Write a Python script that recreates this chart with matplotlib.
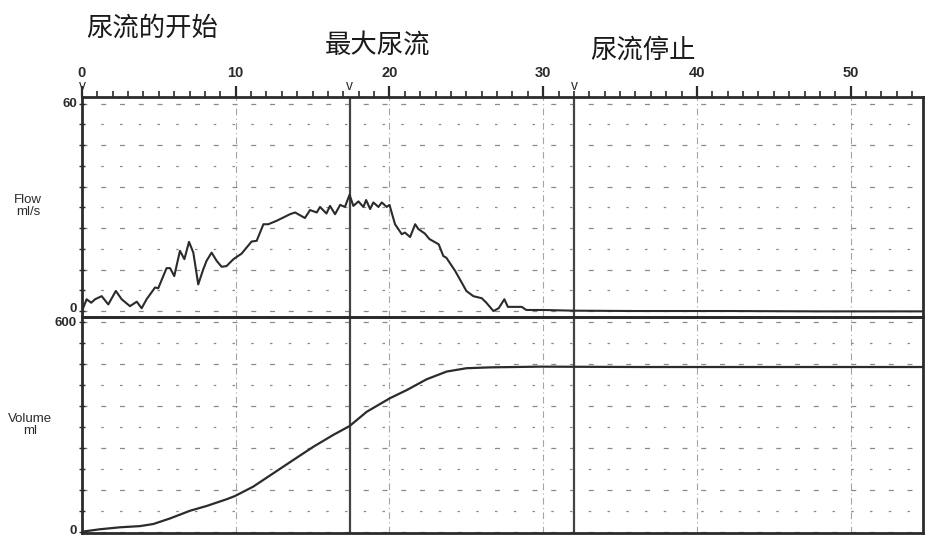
import numpy as np
import matplotlib
matplotlib.use("Agg")
import matplotlib.pyplot as plt

plt.rcParams['font.family'] = ['Noto Sans CJK SC', 'DejaVu Sans']

# 流量曲线 (s, ml/s)
flow_t = [0.0, 0.3, 0.6, 0.85, 1.28, 1.71, 2.2, 2.58, 3.12, 3.56, 3.88, 4.2, 4.75, 4.96,
          5.5, 5.73, 6.0, 6.37, 6.66, 6.96, 7.24, 7.56, 7.89, 8.1, 8.43, 8.76, 9.08, 9.4,
          9.85, 10.38, 11.03, 11.36, 11.8, 12.12, 12.66, 13.53, 13.86, 14.5, 14.83, 15.27,
          15.48, 15.9, 16.13, 16.46, 16.79, 17.1, 17.4, 17.65, 17.98, 18.3, 18.48, 18.74,
          18.95, 19.28, 19.5, 19.82, 20.0, 20.14, 20.36, 20.8, 21.0, 21.34, 21.67, 21.88,
          22.3, 22.6, 23.2, 23.5, 23.7, 24.27, 24.7, 25.0, 25.45, 26.0, 26.3, 26.76, 27.1,
          27.47, 27.7, 28.3, 28.6, 28.9, 30.0, 32.0, 36.0, 42.0, 48.0, 54.7]
flow_v = [0.0, 3.4, 2.4, 3.4, 4.3, 1.9, 5.8, 3.4, 1.4, 2.7, 0.8, 3.4, 6.8, 6.6,
          12.4, 12.4, 10.1, 17.4, 15.0, 20.0, 16.9, 7.7, 12.1, 14.5, 16.9, 14.5, 12.8, 13.0,
          15.0, 16.6, 20.1, 20.3, 25.1, 25.1, 26.1, 28.0, 28.5, 26.9, 29.2, 28.5,
          30.1, 28.2, 30.4, 28.0, 30.7, 30.1, 33.6, 30.4, 31.7, 30.1, 32.1, 29.5,
          31.4, 30.1, 31.4, 30.1, 30.7, 28.5, 25.1, 22.2, 22.7, 21.4, 25.1, 23.7,
          22.4, 20.8, 19.3, 15.9, 15.4, 11.6, 8.2, 5.8, 4.3, 3.7, 2.4, 0.0, 0.8,
          3.4, 1.2, 1.2, 1.2, 0.3, 0.3, 0.1, 0.0, 0.0, -0.1, -0.1]

# 容量曲线 (s, ml)
vol_t = [0.0, 1.17, 2.47, 3.77, 4.64, 5.73, 7.03, 8.1, 9.4, 9.95, 11.14, 12.44, 13.74,
         15.05, 16.35, 17.4, 18.52, 20.04, 21.12, 22.42, 23.72, 25.0, 26.55, 29.8, 36.3, 54.7]
vol_v = [0, 7, 12.6, 16, 22, 38, 60, 73.5, 92.7, 102, 129, 167, 205,
         243, 277, 302, 343, 382, 405, 436, 458, 467.5, 470, 472, 471, 471]

x_ticks = [0, 10, 20, 30, 40, 50]
markers = [0, 17.4, 32]   # 开始 / 最大 / 停止
titles = ["尿流的开始", "最大尿流", "尿流停止"]

W, H = 936, 545
fig = plt.figure(figsize=(W / 100, H / 100), dpi=100)
ink = '#2b2b2b'
latin = ['Liberation Sans', 'DejaVu Sans']
left, right = 82 / W, 923 / W
ax1 = fig.add_axes([left, 1 - 317 / H, right - left, (317 - 97) / H])
ax2 = fig.add_axes([left, 1 - 533 / H, right - left, (533 - 317) / H])
ax2.patch.set_alpha(0)

xlim = (0, 54.7)
for ax in (ax1, ax2):
    ax.set_xlim(*xlim)
    for s in ax.spines.values():
        s.set_linewidth(2)
        s.set_color(ink)
    for xv in [10, 20, 30, 40, 50]:
        ax.axvline(xv, color='#a5a5a5', lw=0.8, ls=(0, (6, 3, 1, 3)), zorder=1)
    for xv in markers[1:]:
        ax.axvline(xv, color='#444444', lw=1.6, zorder=2)

# flow panel
ax1.set_ylim(-1.73, 61.9)
for i, yv in enumerate(np.arange(6, 61, 6)):
    ls = (0, (4, 11)) if i % 2 == 1 else (0, (2, 13))
    ax1.axhline(yv, color='#8a8a8a', lw=0.9, ls=ls, zorder=1)
ax1.axhline(0, color='#8a8a8a', lw=0.9, ls=(0, (4, 11)), zorder=1)
ax1.plot(flow_t, flow_v, color=ink, lw=1.5, zorder=3)
ax1.set_yticks(np.arange(0, 61, 6))
ax1.set_yticklabels([])
ax1.tick_params(axis='y', direction='inout', length=4, width=1, colors=ink)
ax1.xaxis.tick_top()
ax1.set_xticks(x_ticks)
ax1.set_xticks(np.arange(0, 55, 1), minor=True)
ax1.set_xticklabels([str(v) for v in x_ticks], fontsize=10.5, fontweight='bold',
                    family=latin)
ax1.tick_params(axis='x', which='major', direction='out', length=8, width=1.6, pad=4,
                colors=ink)
ax1.tick_params(axis='x', which='minor', direction='out', length=4, width=1.2, colors=ink)

# volume panel
ax2.set_ylim(-3.7, 614)
for i, yv in enumerate(np.arange(0, 601, 60)):
    ls = (0, (4, 11)) if i % 2 == 0 else (0, (2, 13))
    ax2.axhline(yv, color='#8a8a8a', lw=0.9, ls=ls, zorder=1)
ax2.plot(vol_t, vol_v, color=ink, lw=1.6, zorder=3)
ax2.set_yticks(np.arange(0, 601, 60))
ax2.set_yticklabels([])
ax2.tick_params(axis='y', direction='inout', length=4, width=1, colors=ink)
ax2.set_xticks([])

# end labels of the two y scales, placed by hand so "0" and "600" don't collide
ylabels = [("60", 104), ("0", 309), ("600", 323), ("0", 531)]
for txt, py in ylabels:
    fig.text(77 / W, 1 - py / H, txt, ha='right', va='center', fontsize=9.5,
             fontweight='bold', color=ink, family=latin)

# 'v' markers above the top axis
for xv in markers:
    ax1.annotate('v', xy=(xv, 1), xycoords=('data', 'axes fraction'),
                 xytext=(0, 3), textcoords='offset points', ha='center', va='bottom',
                 fontsize=10, color=ink, family=latin)

fig.text(28 / W, 1 - 206 / H, 'Flow\nml/s', ha='center', va='center', fontsize=9.5,
         color=ink, family=latin, linespacing=1.05)
fig.text(30 / W, 1 - 425 / H, 'Volume\nml', ha='center', va='center', fontsize=9.5,
         color=ink, family=latin, linespacing=1.05)

title_pos = [(86, 28), (325, 45), (590, 50)]
for txt, (px, py) in zip(titles, title_pos):
    fig.text(px / W, 1 - py / H, txt, ha='left', va='center', fontsize=19, color='#1a1a1a')

fig.savefig('out.png', dpi=100)
